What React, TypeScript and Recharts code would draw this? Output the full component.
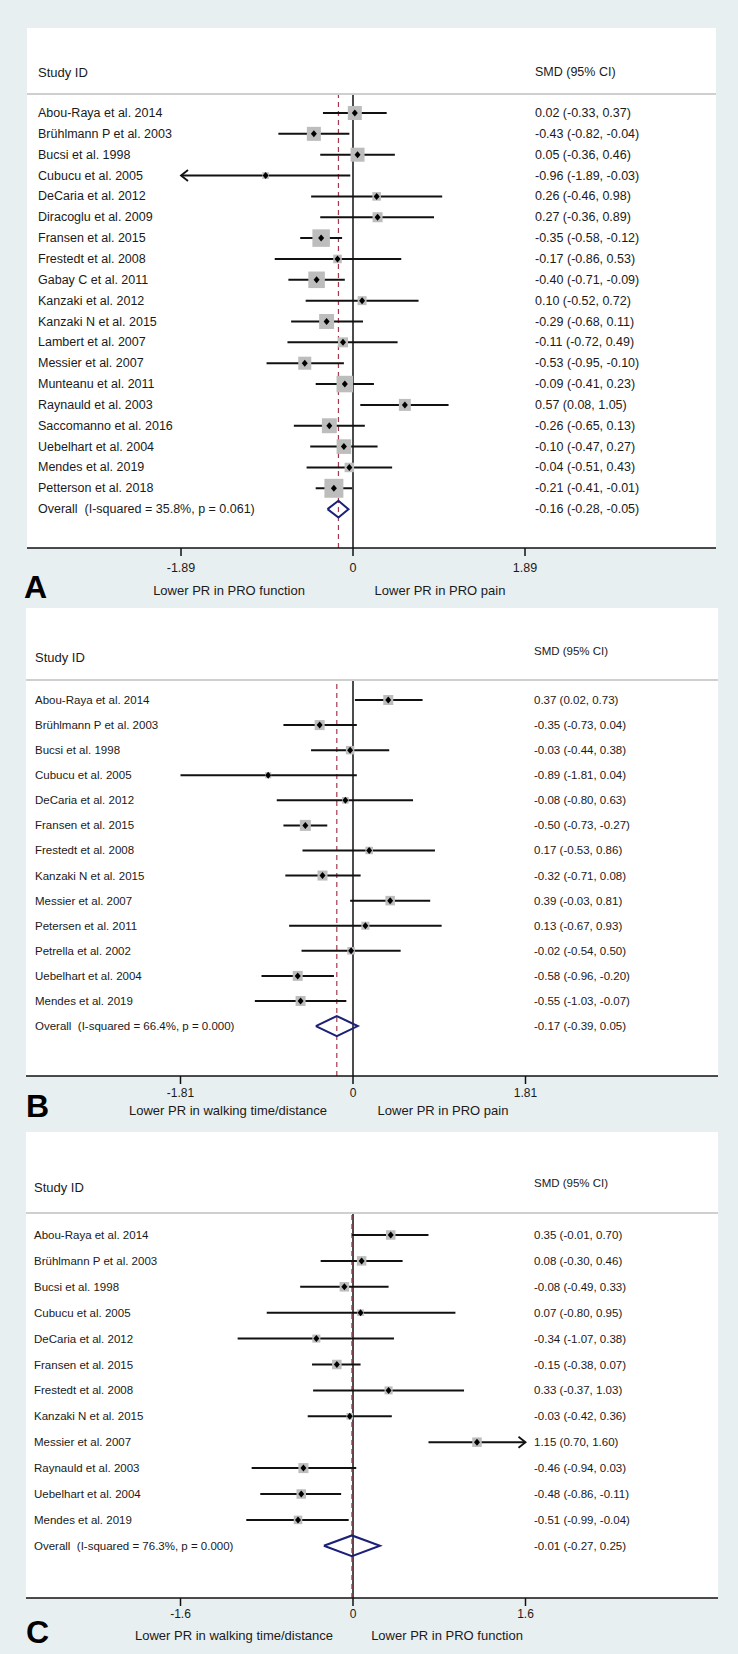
import React from 'react';
import { ComposedChart, Scatter, ErrorBar, XAxis, YAxis, ReferenceLine } from 'recharts';

const FONT = '"Liberation Sans", Arial, Helvetica, sans-serif';
const BG = '#e8eff1';
const SQUARE = '#bdbdbd';
const NAVY = '#1c2078';
const DASH = '#a53a4c';
const INK = '#1a1a1a';

// Panel A: PRO pain vs PRO function
const studiesA = [
  'Abou-Raya et al. 2014', 'Brühlmann P et al. 2003', 'Bucsi et al. 1998', 'Cubucu et al. 2005',
  'DeCaria et al. 2012', 'Diracoglu et al. 2009', 'Fransen et al. 2015', 'Frestedt et al. 2008',
  'Gabay C et al. 2011', 'Kanzaki et al. 2012', 'Kanzaki N et al. 2015', 'Lambert et al. 2007',
  'Messier et al. 2007', 'Munteanu et al. 2011', 'Raynauld et al. 2003', 'Saccomanno et al. 2016',
  'Uebelhart et al. 2004', 'Mendes et al. 2019', 'Petterson et al. 2018',
];
const smdA = [0.02, -0.43, 0.05, -0.96, 0.26, 0.27, -0.35, -0.17, -0.40, 0.10, -0.29, -0.11, -0.53, -0.09, 0.57, -0.26, -0.10, -0.04, -0.21];
const lowerA = [-0.33, -0.82, -0.36, -1.89, -0.46, -0.36, -0.58, -0.86, -0.71, -0.52, -0.68, -0.72, -0.95, -0.41, 0.08, -0.65, -0.47, -0.51, -0.41];
const upperA = [0.37, -0.04, 0.46, -0.03, 0.98, 0.89, -0.12, 0.53, -0.09, 0.72, 0.11, 0.49, -0.10, 0.23, 1.05, 0.13, 0.27, 0.43, -0.01];
const weightA = [5.9, 5.9, 5.9, 1.3, 2.2, 3.0, 9.2, 2.2, 8.2, 2.4, 6.7, 3.0, 5.1, 8.2, 4.3, 6.7, 6.4, 2.7, 10.8];
const overallA = [-0.16, -0.28, -0.05];
const overallLabelA = 'Overall  (I-squared = 35.8%, p = 0.061)';
const limitA = 1.89;
const clippedA: [string, 'left' | 'right'][] = [['Cubucu et al. 2005', 'left']];
const axisLabelsA = ['Lower PR in PRO function', 'Lower PR in PRO pain'];

// Panel B: walking time/distance vs PRO pain
const studiesB = [
  'Abou-Raya et al. 2014', 'Brühlmann P et al. 2003', 'Bucsi et al. 1998', 'Cubucu et al. 2005',
  'DeCaria et al. 2012', 'Fransen et al. 2015', 'Frestedt et al. 2008', 'Kanzaki N et al. 2015',
  'Messier et al. 2007', 'Petersen et al. 2011', 'Petrella et al. 2002', 'Uebelhart et al. 2004',
  'Mendes et al. 2019',
];
const smdB = [0.37, -0.35, -0.03, -0.89, -0.08, -0.50, 0.17, -0.32, 0.39, 0.13, -0.02, -0.58, -0.55];
const lowerB = [0.02, -0.73, -0.44, -1.81, -0.80, -0.73, -0.53, -0.71, -0.03, -0.67, -0.54, -0.96, -1.03];
const upperB = [0.73, 0.04, 0.38, 0.04, 0.63, -0.27, 0.86, 0.08, 0.81, 0.93, 0.50, -0.20, -0.07];
const weightB = [9.6, 9.6, 6.9, 3.5, 4.2, 11.6, 5.4, 9.6, 8.7, 6.2, 5.4, 9.6, 9.6];
const overallB = [-0.17, -0.39, 0.05];
const overallLabelB = 'Overall  (I-squared = 66.4%, p = 0.000)';
const limitB = 1.81;
const clippedB: [string, 'left' | 'right'][] = [];
const axisLabelsB = ['Lower PR in walking time/distance', 'Lower PR in PRO pain'];

// Panel C: walking time/distance vs PRO function
const studiesC = [
  'Abou-Raya et al. 2014', 'Brühlmann P et al. 2003', 'Bucsi et al. 1998', 'Cubucu et al. 2005',
  'DeCaria et al. 2012', 'Fransen et al. 2015', 'Frestedt et al. 2008', 'Kanzaki N et al. 2015',
  'Messier et al. 2007', 'Raynauld et al. 2003', 'Uebelhart et al. 2004', 'Mendes et al. 2019',
];
const smdC = [0.35, 0.08, -0.08, 0.07, -0.34, -0.15, 0.33, -0.03, 1.15, -0.46, -0.48, -0.51];
const lowerC = [-0.01, -0.30, -0.49, -0.80, -1.07, -0.38, -0.37, -0.42, 0.70, -0.94, -0.86, -0.99];
const upperC = [0.70, 0.46, 0.33, 0.95, 0.38, 0.07, 1.03, 0.36, 1.60, 0.03, -0.11, -0.04];
const weightC = [9.7, 9.7, 9.7, 4.7, 6.9, 9.7, 6.9, 4.7, 9.7, 10.8, 9.7, 7.8];
const overallC = [-0.01, -0.27, 0.25];
const overallLabelC = 'Overall  (I-squared = 76.3%, p = 0.000)';
const limitC = 1.6;
const clippedC: [string, 'left' | 'right'][] = [['Messier et al. 2007', 'right']];
const axisLabelsC = ['Lower PR in walking time/distance', 'Lower PR in PRO function'];

interface Layout {
  letter: string;
  boxTop: number; boxLeft: number; boxRight: number;
  sepY: number; axisY: number; zeroX: number; tickPx: number;
  firstRowY: number; rowH: number;
  nameX: number; ciX: number; rowFont: number;
  studyY: number; smdY: number; headFont: number; smdFont: number;
  letterX: number; letterY: number;
  bottomY: number; bottomX: [number, number];
  tickMargin: number; tickFont: number;
  squareK: number;
}

const layoutA: Layout = {
  letter: 'A', boxTop: 28, boxLeft: 27, boxRight: 716, sepY: 95, axisY: 548, zeroX: 353, tickPx: 172,
  firstRowY: 113, rowH: 20.85, nameX: 38, ciX: 535, rowFont: 12.5,
  studyY: 72, smdY: 72, headFont: 13, smdFont: 12.5, letterX: 24, letterY: 587,
  bottomY: 590, bottomX: [229, 440], tickMargin: 7, tickFont: 12.5, squareK: 33.3,
};
const layoutB: Layout = {
  letter: 'B', boxTop: 608, boxLeft: 26, boxRight: 718, sepY: 681, axisY: 1076, zeroX: 353, tickPx: 172.5,
  firstRowY: 700, rowH: 25.08, nameX: 35, ciX: 534, rowFont: 11.5,
  studyY: 657, smdY: 651, headFont: 13, smdFont: 11.5, letterX: 26, letterY: 1106,
  bottomY: 1110, bottomX: [228, 443], tickMargin: 4.5, tickFont: 12, squareK: 10.4,
};
const layoutC: Layout = {
  letter: 'C', boxTop: 1132, boxLeft: 26, boxRight: 718, sepY: 1214, axisY: 1598, zeroX: 353, tickPx: 172.5,
  firstRowY: 1235, rowH: 25.9, nameX: 34, ciX: 534, rowFont: 11.5,
  studyY: 1187, smdY: 1183, headFont: 13, smdFont: 11.5, letterX: 26, letterY: 1632,
  bottomY: 1635, bottomX: [234, 447], tickMargin: 3.5, tickFont: 12, squareK: 9.3,
};

const fmt = (v: number) => v.toFixed(2);
const ciText = (e: number, l: number, u: number) => `${fmt(e)} (${fmt(l)}, ${fmt(u)})`;

interface PanelProps {
  lay: Layout;
  studies: string[];
  smd: number[];
  lower: number[];
  upper: number[];
  weight: number[];
  overall: number[];
  overallLabel: string;
  limit: number;
  clipped: [string, 'left' | 'right'][];
}

function ForestPanel({ lay, studies, smd, lower, upper, weight, overall, overallLabel, limit, clipped }: PanelProps) {
  const n = studies.length;
  const rows = studies.map((name, i) => ({
    x: smd[i],
    y: i,
    err: [smd[i] - lower[i], upper[i] - smd[i]],
    side: Math.sqrt(weight[i] * lay.squareK),
  }));
  // text columns, one entry per row (studies + overall), placed by the y scale
  const labels = [
    ...studies.map((name, i) => ({ x: 0, y: i, name, ci: ciText(smd[i], lower[i], upper[i]) })),
    { x: 0, y: n, name: overallLabel, ci: ciText(overall[0], overall[1], overall[2]) },
  ];
  const arrows = clipped.map(([name, dir]) => {
    const i = studies.indexOf(name);
    return { x: dir === 'left' ? lower[i] : upper[i], y: i, dir };
  });
  const half = 0.4;
  const diamond = [
    { x: overall[1], y: n },
    { x: overall[0], y: n - half },
    { x: overall[2], y: n },
    { x: overall[0], y: n + half },
    { x: overall[1], y: n },
  ];

  const chartH = lay.axisY - lay.sepY + 40;
  const xDomain = [
    (-(lay.zeroX - lay.boxLeft) / lay.tickPx) * limit,
    ((lay.boxRight - lay.zeroX) / lay.tickPx) * limit,
  ];
  const yDomain = [(lay.sepY - lay.firstRowY) / lay.rowH, (lay.axisY - lay.firstRowY) / lay.rowH];

  const labelShape = (p: any) => (
    <g>
      <text x={lay.nameX} y={p.cy} dominantBaseline="central" fontSize={lay.rowFont} fontFamily={FONT} fill={INK} style={{ whiteSpace: 'pre' }}>
        {p.payload.name}
      </text>
      <text x={lay.ciX} y={p.cy} dominantBaseline="central" fontSize={lay.rowFont} fontFamily={FONT} fill={INK}>
        {p.payload.ci}
      </text>
    </g>
  );
  const squareShape = (p: any) => {
    const s = p.payload.side;
    return <rect x={p.cx - s / 2} y={p.cy - s / 2} width={s} height={s} fill={SQUARE} />;
  };
  const dotShape = (p: any) => (
    <polygon
      points={`${p.cx - 3},${p.cy} ${p.cx},${p.cy - 3.5} ${p.cx + 3},${p.cy} ${p.cx},${p.cy + 3.5}`}
      fill="#000"
    />
  );
  const arrowShape = (p: any) => {
    const d = p.payload.dir === 'left' ? 1 : -1;
    return (
      <path
        d={`M${p.cx + d * 7},${p.cy - 5.5} L${p.cx},${p.cy} L${p.cx + d * 7},${p.cy + 5.5}`}
        fill="none"
        stroke="#111"
        strokeWidth={1.8}
      />
    );
  };

  return (
    <div style={{ position: 'absolute', left: 0, top: lay.sepY }}>
      <ComposedChart
        width={738}
        height={chartH}
        margin={{ top: 0, right: 738 - lay.boxRight, bottom: 0, left: lay.boxLeft }}
      >
        <XAxis
          type="number"
          dataKey="x"
          domain={xDomain}
          ticks={[-limit, 0, limit]}
          allowDataOverflow
          interval={0}
          height={40}
          tickSize={8}
          tickMargin={lay.tickMargin}
          axisLine={{ stroke: '#111', strokeWidth: 1.5 }}
          tickLine={{ stroke: '#111', strokeWidth: 1.5 }}
          tick={{ fill: INK, fontSize: lay.tickFont, fontFamily: FONT }}
        />
        <YAxis type="number" dataKey="y" domain={yDomain} reversed allowDataOverflow hide />
        <ReferenceLine x={0} stroke="#111" strokeWidth={1.5} />
        <ReferenceLine x={overall[0]} stroke={DASH} strokeWidth={1.2} strokeDasharray="5 4" />
        <Scatter data={labels} shape={labelShape} isAnimationActive={false} />
        <Scatter data={rows} shape={squareShape} isAnimationActive={false} />
        <Scatter data={rows} shape={dotShape} isAnimationActive={false}>
          <ErrorBar dataKey="err" direction="x" width={0} stroke="#111" strokeWidth={2} isAnimationActive={false} />
        </Scatter>
        <Scatter data={arrows} shape={arrowShape} isAnimationActive={false} />
        <Scatter
          data={diamond}
          line={{ stroke: NAVY, strokeWidth: 2 }}
          lineType="joint"
          shape={() => <g />}
          isAnimationActive={false}
        />
      </ComposedChart>
    </div>
  );
}

function PanelFrame({ lay, axisLabels }: { lay: Layout; axisLabels: string[] }) {
  return (
    <g fontFamily={FONT} fill={INK}>
      <rect x={lay.boxLeft} y={lay.boxTop} width={lay.boxRight - lay.boxLeft} height={lay.axisY - lay.boxTop} fill="#fff" />
      <line x1={lay.boxLeft} x2={lay.boxRight} y1={lay.sepY - 1} y2={lay.sepY - 1} stroke="#cfcfcf" strokeWidth={2} />
      <text x={lay.nameX} y={lay.studyY} dominantBaseline="central" fontSize={lay.headFont}>Study ID</text>
      <text x={lay.ciX} y={lay.smdY} dominantBaseline="central" fontSize={lay.smdFont}>SMD (95% CI)</text>
      <text x={lay.letterX} y={lay.letterY} dominantBaseline="central" fontSize={32} fontWeight="bold" fill="#000">
        {lay.letter}
      </text>
      <text x={lay.bottomX[0]} y={lay.bottomY} dominantBaseline="central" textAnchor="middle" fontSize={13}>
        {axisLabels[0]}
      </text>
      <text x={lay.bottomX[1]} y={lay.bottomY} dominantBaseline="central" textAnchor="middle" fontSize={13}>
        {axisLabels[1]}
      </text>
    </g>
  );
}

export default function App() {
  return (
    <div style={{ position: 'absolute', left: 0, top: 0, width: 738, height: 1654, background: BG, overflow: 'hidden' }}>
      <svg width={738} height={1654} style={{ position: 'absolute', left: 0, top: 0 }}>
        <PanelFrame lay={layoutA} axisLabels={axisLabelsA} />
        <PanelFrame lay={layoutB} axisLabels={axisLabelsB} />
        <PanelFrame lay={layoutC} axisLabels={axisLabelsC} />
      </svg>
      <ForestPanel lay={layoutA} studies={studiesA} smd={smdA} lower={lowerA} upper={upperA} weight={weightA}
        overall={overallA} overallLabel={overallLabelA} limit={limitA} clipped={clippedA} />
      <ForestPanel lay={layoutB} studies={studiesB} smd={smdB} lower={lowerB} upper={upperB} weight={weightB}
        overall={overallB} overallLabel={overallLabelB} limit={limitB} clipped={clippedB} />
      <ForestPanel lay={layoutC} studies={studiesC} smd={smdC} lower={lowerC} upper={upperC} weight={weightC}
        overall={overallC} overallLabel={overallLabelC} limit={limitC} clipped={clippedC} />
    </div>
  );
}
